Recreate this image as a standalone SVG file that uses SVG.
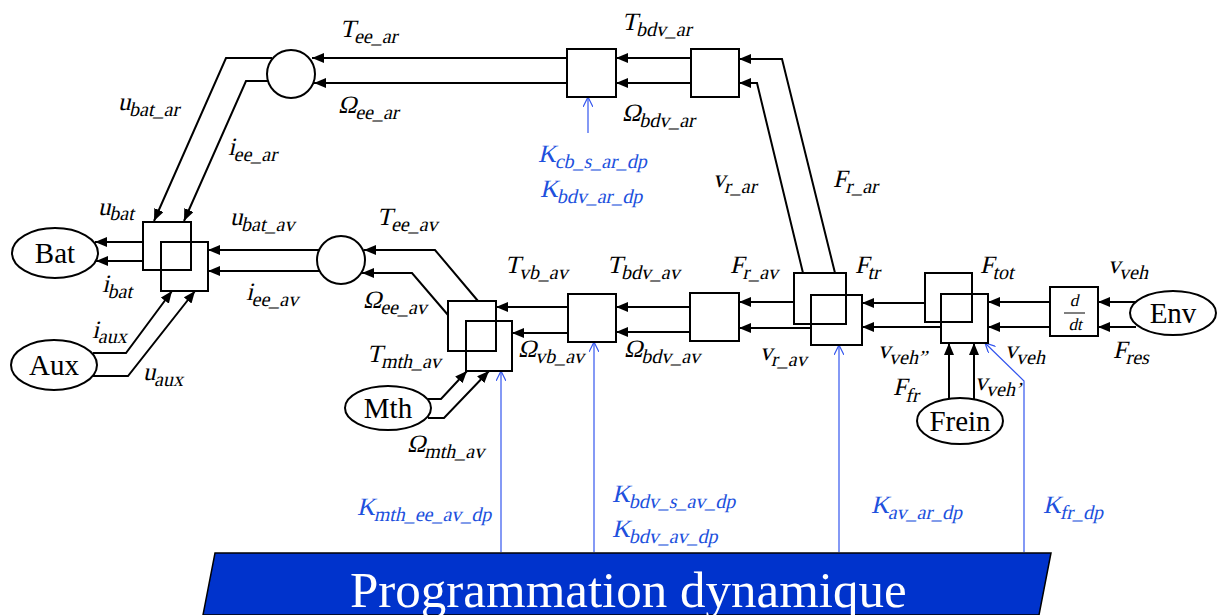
<svg xmlns="http://www.w3.org/2000/svg" width="1217" height="615" viewBox="0 0 1217 615">
<style>
.bx{fill:none;stroke:#000;stroke-width:2}
.wb{fill:#fff;stroke:#000;stroke-width:2}
.el{fill:#fff;stroke:#000;stroke-width:2}
.c{fill:none;stroke:#000;stroke-width:2;marker-end:url(#ah)}
.b{fill:none;stroke:#3355ee;stroke-width:1.2;marker-end:url(#bh)}
.v{font-family:"Liberation Serif","Times New Roman",serif;font-size:25px;fill:#000}
.k{font-family:"Liberation Serif","Times New Roman",serif;font-size:25px;fill:#2050dd}
.s{font-size:20px}
.n{font-family:"Liberation Serif","Times New Roman",serif;font-size:29px;fill:#000;text-anchor:middle}
.d{font-family:"Liberation Serif","Times New Roman",serif;font-size:17px;text-anchor:middle}
</style>
<defs>
<marker id="ah" markerWidth="12" markerHeight="10" refX="12" refY="5" orient="auto" markerUnits="userSpaceOnUse"><path d="M0,0 L12,5 L0,10 z" fill="#000"/></marker>
<marker id="bh" markerWidth="10" markerHeight="10" refX="10" refY="5" orient="auto" markerUnits="userSpaceOnUse"><path d="M0,0 L10,5 L0,10" fill="none" stroke="#3355ee" stroke-width="1.2"/></marker>
</defs>
<g id="connectors">
<path class="c" d="M567,58 L312,58"/>
<path class="c" d="M567,83 L314,83"/>
<path class="c" d="M691,58 L616,58"/>
<path class="c" d="M691,83 L616,83"/>
<path class="c" d="M835,273 L782,59 L739,59"/>
<path class="c" d="M803,273 L757,83 L739,83"/>
<path class="c" d="M272,58 L226,58 L154,221"/>
<path class="c" d="M270,81 L246,81 L184,221"/>
<path class="c" d="M143,242 L95,242"/>
<path class="c" d="M143,261 L96,261"/>
<path class="c" d="M319,250 L208,250"/>
<path class="c" d="M320,271 L208,271"/>
<path class="c" d="M478,301 L435,250 L364,250"/>
<path class="c" d="M448,315 L412,273 L362,273"/>
<path class="c" d="M568,307 L496,307"/>
<path class="c" d="M568,333 L512,333"/>
<path class="c" d="M690,307 L616,307"/>
<path class="c" d="M690,332 L616,332"/>
<path class="c" d="M794,302 L739,302"/>
<path class="c" d="M811,328 L739,328"/>
<path class="c" d="M925,303 L862,303"/>
<path class="c" d="M941,327 L862,327"/>
<path class="c" d="M1050,302 L988,302"/>
<path class="c" d="M1050,327 L988,327"/>
<path class="c" d="M1136,302 L1098,302"/>
<path class="c" d="M1136,327 L1098,327"/>
<path class="c" d="M949,399 L949,343"/>
<path class="c" d="M974,399 L974,343"/>
<path class="c" d="M428,399 L441,399 L467,371"/>
<path class="c" d="M428,418 L444,418 L489,371"/>
<path class="c" d="M93,353 L126,353 L172,291"/>
<path class="c" d="M93,376 L128,376 L195,291"/>
<path class="b" d="M588,133 L588,97"/>
<path class="b" d="M501,552 L501,371"/>
<path class="b" d="M594,552 L594,342"/>
<path class="b" d="M839,552 L839,345"/>
<path class="b" d="M1024,552 L1024,381 L985,343"/>
</g>
<g id="n_bat"><ellipse class="el" cx="55" cy="253" rx="43" ry="25"/><text class="n" x="55" y="263">Bat</text></g>
<g id="n_aux"><ellipse class="el" cx="54" cy="365" rx="43" ry="25"/><text class="n" x="54" y="375">Aux</text></g>
<g id="n_mth"><ellipse class="el" cx="388" cy="408" rx="43" ry="22"/><text class="n" x="388" y="418">Mth</text></g>
<g id="n_frein"><ellipse class="el" cx="960" cy="421" rx="43" ry="23"/><text class="n" x="960" y="431">Frein</text></g>
<g id="n_env"><ellipse class="el" cx="1173" cy="313" rx="43" ry="22"/><text class="n" x="1173" y="323">Env</text></g>
<g id="n_ee_ar"><circle class="wb" cx="291" cy="74" r="24"/></g>
<g id="n_ee_av"><circle class="wb" cx="341" cy="260" r="24"/></g>
<g id="n_batconv"><rect class="bx" x="143" y="222" width="48" height="48"/><rect class="bx" x="161" y="242" width="47" height="49"/></g>
<g id="n_cb_ar"><rect class="wb" x="567" y="49" width="49" height="48"/></g>
<g id="n_bdv_ar"><rect class="wb" x="691" y="49" width="48" height="48"/></g>
<g id="n_vb"><rect class="bx" x="448" y="301" width="48" height="50"/><rect class="bx" x="466" y="321" width="46" height="50"/></g>
<g id="n_bdv_av"><rect class="wb" x="568" y="294" width="48" height="48"/></g>
<g id="n_fr_av"><rect class="wb" x="690" y="293" width="49" height="48"/></g>
<g id="n_tr"><rect class="bx" x="794" y="273" width="52" height="51"/><rect class="bx" x="811" y="295" width="51" height="50"/></g>
<g id="n_tot"><rect class="bx" x="925" y="273" width="47" height="49"/><rect class="bx" x="941" y="294" width="47" height="49"/></g>
<g id="n_ddt"><rect class="wb" x="1050" y="287" width="48" height="49"/>
<text class="d" transform="translate(1074,306) skewX(-13)">d</text>
<line x1="1064" y1="313" x2="1085" y2="313" stroke="#000" stroke-width="1"/>
<text class="d" transform="translate(1075,330) skewX(-13)">dt</text></g>
<g id="labels">
<text class="v" transform="translate(340,37) skewX(-13)">T<tspan class="s" dy="6">ee_ar</tspan></text>
<text class="v" transform="translate(338,113) skewX(-13)">Ω<tspan class="s" dy="6">ee_ar</tspan></text>
<text class="v" transform="translate(622,30) skewX(-13)">T<tspan class="s" dy="6">bdv_ar</tspan></text>
<text class="v" transform="translate(622,121) skewX(-13)">Ω<tspan class="s" dy="6">bdv_ar</tspan></text>
<text class="v" transform="translate(118,110) skewX(-13)">u<tspan class="s" dy="6">bat_ar</tspan></text>
<text class="v" transform="translate(228,155) skewX(-13)">i<tspan class="s" dy="6">ee_ar</tspan></text>
<text class="v" transform="translate(98,215) skewX(-13)">u<tspan class="s" dy="5">bat</tspan></text>
<text class="v" transform="translate(102,292) skewX(-13)">i<tspan class="s" dy="6">bat</tspan></text>
<text class="v" transform="translate(92,338) skewX(-13)">i<tspan class="s" dy="5">aux</tspan></text>
<text class="v" transform="translate(143,380) skewX(-13)">u<tspan class="s" dy="6">aux</tspan></text>
<text class="v" transform="translate(230,225) skewX(-13)">u<tspan class="s" dy="6">bat_av</tspan></text>
<text class="v" transform="translate(246,300) skewX(-13)">i<tspan class="s" dy="6">ee_av</tspan></text>
<text class="v" transform="translate(377,225) skewX(-13)">T<tspan class="s" dy="6">ee_av</tspan></text>
<text class="v" transform="translate(363,308) skewX(-13)">Ω<tspan class="s" dy="6">ee_av</tspan></text>
<text class="v" transform="translate(505,273) skewX(-13)">T<tspan class="s" dy="6">vb_av</tspan></text>
<text class="v" transform="translate(607,273) skewX(-13)">T<tspan class="s" dy="6">bdv_av</tspan></text>
<text class="v" transform="translate(730,273) skewX(-13)">F<tspan class="s" dy="6">r_av</tspan></text>
<text class="v" transform="translate(518,357) skewX(-13)">Ω<tspan class="s" dy="6">vb_av</tspan></text>
<text class="v" transform="translate(624,357) skewX(-13)">Ω<tspan class="s" dy="6">bdv_av</tspan></text>
<text class="v" transform="translate(367,362) skewX(-13)">T<tspan class="s" dy="6">mth_av</tspan></text>
<text class="v" transform="translate(407,452) skewX(-13)">Ω<tspan class="s" dy="6">mth_av</tspan></text>
<text class="v" transform="translate(713,187) skewX(-13)">v<tspan class="s" dy="6">r_ar</tspan></text>
<text class="v" transform="translate(833,187) skewX(-13)">F<tspan class="s" dy="6">r_ar</tspan></text>
<text class="v" transform="translate(855,273) skewX(-13)">F<tspan class="s" dy="6">tr</tspan></text>
<text class="v" transform="translate(760,360) skewX(-13)">v<tspan class="s" dy="6">r_av</tspan></text>
<text class="v" transform="translate(980,273) skewX(-13)">F<tspan class="s" dy="6">tot</tspan></text>
<text class="v" transform="translate(878,358) skewX(-13)">v<tspan class="s" dy="6">veh”</tspan></text>
<text class="v" transform="translate(1005,358) skewX(-13)">v<tspan class="s" dy="6">veh</tspan></text>
<text class="v" transform="translate(893,395) skewX(-13)">F<tspan class="s" dy="7">fr</tspan></text>
<text class="v" transform="translate(975,390) skewX(-13)">v<tspan class="s" dy="6">veh’</tspan></text>
<text class="v" transform="translate(1108,273) skewX(-13)">v<tspan class="s" dy="6">veh</tspan></text>
<text class="v" transform="translate(1113,358) skewX(-13)">F<tspan class="s" dy="6">res</tspan></text>
<text class="k" transform="translate(538,162) skewX(-13)">K<tspan class="s" dy="6">cb_s_ar_dp</tspan></text>
<text class="k" transform="translate(540,197) skewX(-13)">K<tspan class="s" dy="6">bdv_ar_dp</tspan></text>
<text class="k" transform="translate(357,515) skewX(-13)">K<tspan class="s" dy="6">mth_ee_av_dp</tspan></text>
<text class="k" transform="translate(612,502) skewX(-13)">K<tspan class="s" dy="6">bdv_s_av_dp</tspan></text>
<text class="k" transform="translate(612,537) skewX(-13)">K<tspan class="s" dy="6">bdv_av_dp</tspan></text>
<text class="k" transform="translate(871,513) skewX(-13)">K<tspan class="s" dy="6">av_ar_dp</tspan></text>
<text class="k" transform="translate(1043,513) skewX(-13)">K<tspan class="s" dy="6">fr_dp</tspan></text>
</g>
<g id="n_prog">
<polygon points="215,553 1051,553 1039,615 203,615" fill="#0033cc" stroke="#000" stroke-width="1.5"/>
<text x="350" y="607" style="font-family:'Liberation Serif','Times New Roman',serif;font-size:51px;fill:#fff">Programmation dynamique</text>
</g>
</svg>
